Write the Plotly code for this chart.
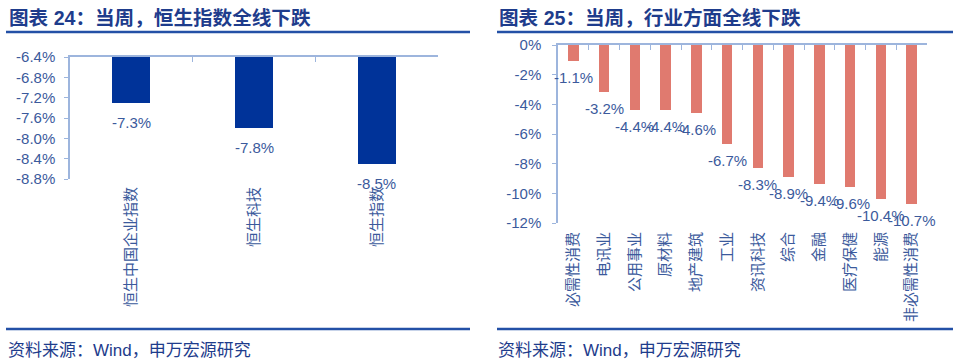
import plotly.graph_objects as go

# ---------------- data ----------------
hs_categories = ["恒生中国企业指数", "恒生科技", "恒生指数"]
hs_values = [-7.3, -7.8, -8.5]
hs_labels = ["-7.3%", "-7.8%", "-8.5%"]
hs_ticks = [-6.4, -6.8, -7.2, -7.6, -8.0, -8.4, -8.8]
hs_ticktext = ["-6.4%", "-6.8%", "-7.2%", "-7.6%", "-8.0%", "-8.4%", "-8.8%"]

ind_categories = ["必需性消费", "电讯业", "公用事业", "原材料", "地产建筑", "工业",
                  "资讯科技", "综合", "金融", "医疗保健", "能源", "非必需性消费"]
ind_values = [-1.1, -3.2, -4.4, -4.4, -4.6, -6.7, -8.3, -8.9, -9.4, -9.6, -10.4, -10.7]
ind_labels = ["-1.1%", "-3.2%", "-4.4%", "-4.4%", "-4.6%", "-6.7%", "-8.3%",
              "-8.9%", "-9.4%", "-9.6%", "-10.4%", "-10.7%"]
ind_ticks = [0, -2, -4, -6, -8, -10, -12]
ind_ticktext = ["0%", "-2%", "-4%", "-6%", "-8%", "-10%", "-12%"]

titles = ["图表 24：当周，恒生指数全线下跌", "图表 25：当周，行业方面全线下跌"]
source = "资料来源：Wind，申万宏源研究"

# ---------------- styles ----------------
W, H = 960, 362
NAVY = "#1E3C8C"
TXT = "#3B5A9C"
AXIS = "#9DB5DD"
RULE = "#2350A6"
BLUE_BAR = "#003399"
RED_BAR = "#E07A6F"
FONT = "Liberation Sans, Noto Sans CJK SC, sans-serif"
CJK = "Noto Sans CJK SC, Liberation Sans, sans-serif"

def px_x(v):
    return v / W

def px_y(v):
    return 1 - v / H

left_dom_x = [px_x(70), px_x(438)]
left_dom_y = [px_y(179), px_y(57)]
right_dom_x = [px_x(558), px_x(927)]
right_dom_y = [px_y(223), px_y(45)]

hs_top = hs_ticks[0]
fig = go.Figure()

fig.add_trace(go.Bar(
    x=hs_categories, y=[v - hs_top for v in hs_values], base=[hs_top] * len(hs_values),
    marker=dict(color=BLUE_BAR, line=dict(width=0)), width=0.31,
    xaxis="x", yaxis="y", hoverinfo="skip", showlegend=False,
))
fig.add_trace(go.Bar(
    x=ind_categories, y=ind_values,
    marker=dict(color=RED_BAR, line=dict(width=0)), width=0.34,
    xaxis="x2", yaxis="y2", hoverinfo="skip", showlegend=False,
))

common_cat = dict(type="category", showline=False, ticks="", tickangle=-90,
                  tickfont=dict(family=CJK, size=15, color=TXT), showgrid=False,
                  zeroline=False, fixedrange=True, automargin=False)

fig.update_layout(
    width=W, height=H, margin=dict(l=0, r=0, t=0, b=0, autoexpand=False),
    paper_bgcolor="white", plot_bgcolor="white", bargap=0,
    font=dict(family=FONT, color=TXT),
    xaxis=dict(domain=left_dom_x, anchor="y", range=[-0.5, len(hs_categories) - 0.5],
               ticklabelstandoff=4, **common_cat),
    yaxis=dict(domain=left_dom_y, anchor="x", range=[hs_ticks[-1], hs_ticks[0]],
               tickvals=hs_ticks, ticktext=hs_ticktext, showline=True, linecolor=AXIS,
               linewidth=1.5, ticks="outside", ticklen=4, tickcolor=AXIS, showgrid=False,
               zeroline=False, tickfont=dict(family=FONT, size=15, color=TXT),
               ticklabelstandoff=6, fixedrange=True, automargin=False),
    xaxis3=dict(overlaying="x", anchor="y", side="top", range=[-0.5, len(hs_categories) - 0.5],
                tickvals=[i - 0.5 for i in range(len(hs_categories) + 1)],
                showticklabels=False, ticks="inside", ticklen=5, tickcolor=AXIS,
                showline=True, linecolor=AXIS, linewidth=1.5, showgrid=False,
                zeroline=False, fixedrange=True, automargin=False),
    xaxis2=dict(domain=right_dom_x, anchor="y2", range=[-0.5, len(ind_categories) - 0.5],
                ticklabelstandoff=5, **common_cat),
    yaxis2=dict(domain=right_dom_y, anchor="x2", range=[ind_ticks[-1], ind_ticks[0]],
                tickvals=ind_ticks, ticktext=ind_ticktext, showline=True, linecolor=AXIS,
                linewidth=1.5, ticks="outside", ticklen=4, tickcolor=AXIS, showgrid=False,
                zeroline=False, tickfont=dict(family=FONT, size=15, color=TXT),
                ticklabelstandoff=8, fixedrange=True, automargin=False),
    xaxis4=dict(overlaying="x2", anchor="y2", side="top", range=[-0.5, len(ind_categories) - 0.5],
                tickvals=[i - 0.5 for i in range(len(ind_categories) + 1)],
                showticklabels=False, ticks="inside", ticklen=5, tickcolor=AXIS,
                showline=True, linecolor=AXIS, linewidth=1.5, showgrid=False,
                zeroline=False, fixedrange=True, automargin=False),
)

# invisible traces so the overlay axes render
fig.add_trace(go.Scatter(x=[0], y=[hs_top], xaxis="x3", yaxis="y", mode="markers",
                         marker=dict(opacity=0), hoverinfo="skip", showlegend=False))
fig.add_trace(go.Scatter(x=[0], y=[0], xaxis="x4", yaxis="y2", mode="markers",
                         marker=dict(opacity=0), hoverinfo="skip", showlegend=False))

annotations = []
for c, v, t in zip(hs_categories, hs_values, hs_labels):
    annotations.append(dict(x=c, y=v, xref="x", yref="y", text=t, showarrow=False,
                            yanchor="top", yshift=-9,
                            font=dict(family=FONT, size=15, color=TXT)))
for c, v, t in zip(ind_categories, ind_values, ind_labels):
    annotations.append(dict(x=c, y=v, xref="x2", yref="y2", text=t, showarrow=False,
                            yanchor="top", yshift=-6,
                            font=dict(family=FONT, size=15, color=TXT)))

# titles and source lines
panels = [(6, 470, 7), (497, 953, 497)]
for (x0, x1, tx), title in zip(panels, titles):
    annotations.append(dict(x=px_x(tx), y=px_y(18), xref="paper", yref="paper",
                            xanchor="left", yanchor="middle", text="<b>" + title + "</b>",
                            showarrow=False, font=dict(family=FONT, size=19.6, color=NAVY)))
    annotations.append(dict(x=px_x(tx - 1), y=px_y(350), xref="paper", yref="paper",
                            xanchor="left", yanchor="middle", text=source,
                            showarrow=False, font=dict(family=FONT, size=17, color=NAVY)))
    fig.add_shape(type="line", xref="paper", yref="paper", x0=px_x(x0), x1=px_x(x1),
                  y0=px_y(32), y1=px_y(32), line=dict(color=RULE, width=2.5))
    fig.add_shape(type="line", xref="paper", yref="paper", x0=px_x(x0), x1=px_x(x1),
                  y0=px_y(329), y1=px_y(329), line=dict(color=RULE, width=2.5))

fig.update_layout(annotations=annotations)
fig.write_html("out.html", config={"displayModeBar": False},
               post_script="document.body.style.margin='0';document.body.style.overflow='hidden';")
